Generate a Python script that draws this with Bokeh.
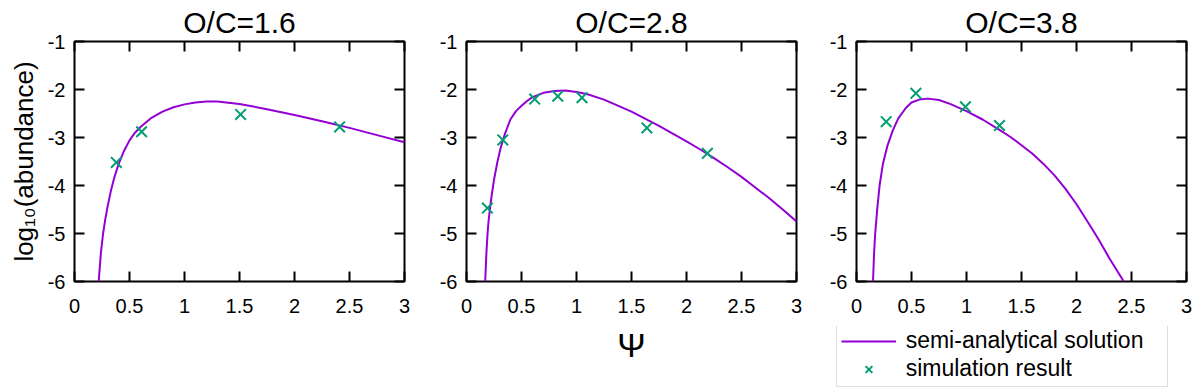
from bokeh.plotting import figure
from bokeh.models import Range1d, LinearAxis, FixedTicker, Legend, LegendItem
from bokeh.layouts import row, column
from bokeh.embed import file_html
from bokeh.resources import INLINE

titles = ["O/C=1.6", "O/C=2.8", "O/C=3.8"]
x_ticks = [0, 0.5, 1, 1.5, 2, 2.5, 3]
x_tick_labels = ["0", "0.5", "1", "1.5", "2", "2.5", "3"]
y_ticks = [-1, -2, -3, -4, -5, -6]
y_tick_labels = ["-1", "-2", "-3", "-4", "-5", "-6"]
legend_labels = ["semi-analytical solution", "simulation result"]

curve1_x = [0.22, 0.24, 0.26, 0.28, 0.30, 0.33, 0.36, 0.40, 0.45, 0.50, 0.55, 0.60, 0.70, 0.80, 0.90,
            1.00, 1.10, 1.20, 1.30, 1.50, 1.75, 2.00, 2.25, 2.50, 2.75, 3.00]
curve1_y = [-6.0, -5.4, -5.0, -4.7, -4.45, -4.12, -3.85, -3.56, -3.28, -3.06, -2.90, -2.78, -2.59, -2.46, -2.37,
            -2.31, -2.27, -2.25, -2.25, -2.30, -2.41, -2.53, -2.66, -2.80, -2.95, -3.10]
sim1_x = [0.38, 0.61, 1.51, 2.41]
sim1_y = [-3.52, -2.88, -2.52, -2.78]

curve2_x = [0.17, 0.18, 0.19, 0.20, 0.22, 0.25, 0.28, 0.31, 0.35, 0.40, 0.45, 0.50, 0.55, 0.60, 0.70,
            0.80, 0.90, 1.00, 1.10, 1.25, 1.50, 1.75, 2.00, 2.125, 2.25, 2.375, 2.50, 2.625, 2.75, 2.875, 3.00]
curve2_y = [-6.0, -5.45, -5.05, -4.75, -4.35, -3.88, -3.52, -3.22, -2.92, -2.62, -2.45, -2.34, -2.24, -2.16, -2.07,
            -2.03, -2.02, -2.05, -2.10, -2.21, -2.46, -2.76, -3.08, -3.25, -3.43, -3.62, -3.82, -4.04, -4.26, -4.50, -4.75]
sim2_x = [0.19, 0.33, 0.62, 0.83, 1.05, 1.64, 2.19]
sim2_y = [-4.47, -3.05, -2.20, -2.14, -2.17, -2.80, -3.33]

curve3_x = [0.15, 0.16, 0.17, 0.19, 0.21, 0.24, 0.28, 0.33, 0.38, 0.45, 0.50, 0.57, 0.65, 0.75, 0.85,
            1.00, 1.15, 1.30, 1.40, 1.50, 1.60, 1.70, 1.80, 1.90, 2.00, 2.10, 2.20, 2.30, 2.43]
curve3_y = [-6.0, -5.4, -5.0, -4.45, -4.0, -3.55, -3.18, -2.85, -2.60, -2.38, -2.27, -2.21, -2.19, -2.22, -2.30,
            -2.45, -2.63, -2.84, -2.99, -3.16, -3.34, -3.55, -3.79, -4.07, -4.39, -4.75, -5.12, -5.52, -6.0]
sim3_x = [0.27, 0.54, 0.99, 1.30]
sim3_y = [-2.67, -2.08, -2.36, -2.75]

curves = [(curve1_x, curve1_y), (curve2_x, curve2_y), (curve3_x, curve3_y)]
sims = [(sim1_x, sim1_y), (sim2_x, sim2_y), (sim3_x, sim3_y)]

FONT = "Liberation Sans"
LINE_COLOR = "#9400d3"
MARK_COLOR = "#009e73"

x_over = {t: lab for t, lab in zip(x_ticks, x_tick_labels)}
y_over = {t: lab for t, lab in zip(y_ticks, y_tick_labels)}


def style_axis(ax, ticks, overrides, show_labels, standoff):
    ax.ticker = FixedTicker(ticks=ticks)
    ax.axis_line_color = None
    ax.major_tick_in = 10
    ax.major_tick_out = 0
    ax.major_tick_line_width = 2
    ax.major_tick_line_color = "black"
    ax.minor_tick_line_color = None
    ax.major_label_text_font = FONT
    ax.major_label_text_font_size = "20px"
    ax.major_label_text_color = "black"
    ax.axis_label_text_font = FONT
    ax.axis_label_text_font_style = "normal"
    ax.axis_label_text_color = "black"
    if show_labels:
        ax.major_label_overrides = overrides
        ax.major_label_standoff = standoff
    else:
        ax.major_label_overrides = {t: "" for t in ticks}
        ax.major_label_standoff = 0


borders = [(74, 30), (32, 30), (29, 9)]
bottoms = [40, 95, 45]
figs = []
for i in range(3):
    bl, br = borders[i]
    p = figure(frame_width=330, frame_height=240,
               x_range=Range1d(0, 3), y_range=Range1d(-6, -1),
               output_backend="svg", toolbar_location=None,
               min_border_left=bl, min_border_right=br, min_border_top=40,
               min_border_bottom=bottoms[i], title=titles[i])
    p.title.text_font = FONT
    p.title.text_font_size = "30px"
    p.title.text_font_style = "normal"
    p.title.align = "center"
    p.title.text_color = "black"
    p.title.standoff = 6
    p.grid.visible = False
    p.outline_line_color = "black"
    p.outline_line_width = 2
    p.outline_line_alpha = 1

    bottom_ax = p.xaxis[0]
    left_ax = p.yaxis[0]
    style_axis(bottom_ax, x_ticks, x_over, True, 17)
    style_axis(left_ax, y_ticks, y_over, True, 9)
    top = LinearAxis()
    style_axis(top, x_ticks, x_over, False, 0)
    p.add_layout(top, "above")
    right = LinearAxis()
    style_axis(right, y_ticks, y_over, False, 0)
    p.add_layout(right, "right")

    cx, cy = curves[i]
    sx, sy = sims[i]
    p.line(cx, cy, line_color=LINE_COLOR, line_width=2)
    p.scatter(sx, sy, marker="x", size=15, line_color=MARK_COLOR, line_width=2)

    if i == 0:
        left_ax.axis_label = "log\u2081\u2080(abundance)"
        left_ax.axis_label_text_font_size = "26px"
        left_ax.axis_label_standoff = 6
    if i == 1:
        bottom_ax.axis_label = "\u03a8"
        bottom_ax.axis_label_text_font_size = "34px"
        bottom_ax.axis_label_standoff = 10
    figs.append(p)

# legend holder placed under the third panel (proxy renderers hold no visible data)
nan = float("nan")
lf = figure(frame_width=339, frame_height=62,
            x_range=Range1d(0, 1), y_range=Range1d(0, 1),
            x_axis_location=None, y_axis_location=None,
            output_backend="svg", toolbar_location=None,
            min_border_left=borders[2][0], min_border_right=0, min_border_top=0, min_border_bottom=0)
lf.grid.visible = False
lf.outline_line_color = None
ln_leg = lf.line(x=[nan], y=[nan], line_color=LINE_COLOR, line_width=2)
sc_leg = lf.scatter(x=[nan], y=[nan], marker="x", size=15, line_color=MARK_COLOR, line_width=2)
legend = Legend(items=[LegendItem(label=legend_labels[0], renderers=[ln_leg]),
                       LegendItem(label=legend_labels[1], renderers=[sc_leg])],
                location=(0, 1), orientation="vertical")
legend.label_text_font = FONT
legend.label_text_font_size = "23px"
legend.label_text_color = "black"
legend.border_line_color = "#bbbbbb"
legend.border_line_width = 1
legend.background_fill_color = "white"
legend.glyph_width = 55
legend.glyph_height = 24
legend.label_height = 24
legend.label_width = 257
legend.label_standoff = 10
legend.padding = 4
legend.spacing = 1
legend.margin = 0
lf.add_layout(legend)

layout = row(figs[0], figs[1], column(figs[2], lf))
open("out.html", "w").write(file_html(layout, INLINE))
